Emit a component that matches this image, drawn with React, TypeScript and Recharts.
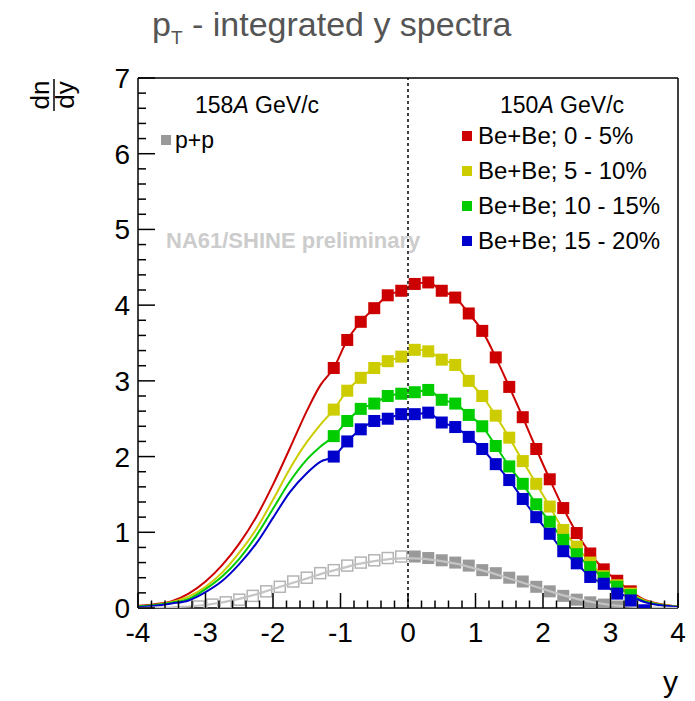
import React from "react";
import { ComposedChart, Line, Scatter, XAxis, YAxis, ReferenceLine } from "recharts";

// rapidity bins of the Be+Be measurements
const rapidity = [
  -1.1, -0.9, -0.7, -0.5, -0.3, -0.1, 0.1, 0.3, 0.5, 0.7, 0.9, 1.1, 1.3, 1.5,
  1.7, 1.9, 2.1, 2.3, 2.5, 2.7, 2.9, 3.1, 3.3, 3.5,
];
const beBe0to5 = [
  3.17, 3.54, 3.78, 3.96, 4.13, 4.19, 4.28, 4.3, 4.19, 4.1, 3.89, 3.66, 3.31,
  2.92, 2.52, 2.1, 1.7, 1.32, 0.99, 0.72, 0.51, 0.36, 0.22,
];
const beBe5to10 = [
  2.62, 2.87, 3.04, 3.17, 3.26, 3.32, 3.41, 3.39, 3.28, 3.21, 3.0, 2.8, 2.54,
  2.25, 1.94, 1.64, 1.34, 1.03, 0.81, 0.6, 0.42, 0.3, 0.19,
];
const beBe10to15 = [
  2.27, 2.47, 2.63, 2.7, 2.8, 2.83, 2.85, 2.88, 2.75, 2.7, 2.55, 2.4, 2.14,
  1.87, 1.64, 1.37, 1.14, 0.9, 0.71, 0.54, 0.4, 0.28, 0.17,
];
const beBe15to20 = [
  2.0, 2.2, 2.36, 2.47, 2.5, 2.56, 2.56, 2.58, 2.45, 2.39, 2.26, 2.1, 1.9,
  1.69, 1.44, 1.2, 0.98, 0.75, 0.59, 0.41, 0.32, 0.19, 0.1, -0.03,
];

// fitted curves outside the measured range
const fitLeftX = [-4, -3.75, -3.5, -3.25, -3, -2.75, -2.5, -2.25, -2, -1.75, -1.5, -1.3];
const fitTailX = [3.3, 3.5, 3.75, 4];
const fit0to5Left = [0.03, 0.05, 0.09, 0.19, 0.35, 0.57, 0.85, 1.2, 1.63, 2.11, 2.6, 2.94];
const fit5to10Left = [0.02, 0.04, 0.08, 0.15, 0.28, 0.47, 0.73, 1.04, 1.43, 1.84, 2.19, 2.42];
const fit10to15Left = [0.02, 0.04, 0.07, 0.12, 0.25, 0.42, 0.65, 0.95, 1.31, 1.67, 1.96, 2.13];
const fit15to20Left = [0.01, 0.03, 0.06, 0.1, 0.21, 0.36, 0.58, 0.85, 1.19, 1.53, 1.78, 1.93];
const fit0to5Tail = [0.22, 0.11, 0.05, 0.02];
const fit5to10Tail = [0.19, 0.1, 0.045, 0.018];
const fit10to15Tail = [0.17, 0.09, 0.04, 0.015];
const fit15to20Tail = [0.15, 0.08, 0.035, 0.012];

// p+p at 158A GeV/c (measured y > 0, mirrored to y < 0)
const ppRapidity = [0.1, 0.3, 0.5, 0.7, 0.9, 1.1, 1.3, 1.5, 1.7, 1.9, 2.1, 2.3, 2.5, 2.7, 2.9, 3.1];
const ppValues = [0.68, 0.66, 0.63, 0.6, 0.56, 0.5, 0.46, 0.4, 0.35, 0.28, 0.22, 0.16, 0.11, 0.075, 0.045, 0.02];
// symmetric p+p fit, positive half
const ppFitX = [0, 0.25, 0.5, 0.75, 1, 1.25, 1.5, 1.75, 2, 2.25, 2.5, 2.75, 3, 3.25, 3.5, 3.75, 4];
const ppFit = [0.66, 0.65, 0.62, 0.58, 0.52, 0.46, 0.39, 0.32, 0.25, 0.18, 0.12, 0.075, 0.04, 0.02, 0.01, 0.005, 0.0];

const xMajorTicks = [-4, -3, -2, -1, 0, 1, 2, 3, 4];
const yMajorTicks = [0, 1, 2, 3, 4, 5, 6, 7];
const xTicks = Array.from({ length: 41 }, (_, i) => Math.round((-4 + i * 0.2) * 10) / 10);
const yTicks = Array.from({ length: 36 }, (_, i) => Math.round(i * 0.2 * 10) / 10);

const series = [
  { name: "Be+Be; 0 - 5%", color: "#cc0000", values: beBe0to5, left: fit0to5Left, tail: fit0to5Tail },
  { name: "Be+Be; 5 - 10%", color: "#cccc00", values: beBe5to10, left: fit5to10Left, tail: fit5to10Tail },
  { name: "Be+Be; 10 - 15%", color: "#00cc00", values: beBe10to15, left: fit10to15Left, tail: fit10to15Tail },
  { name: "Be+Be; 15 - 20%", color: "#0000cc", values: beBe15to20, left: fit15to20Left, tail: fit15to20Tail },
];

const pts = (xs: number[], vs: number[]) => vs.map((v, i) => ({ x: xs[i], v }));

const FONT = "'Liberation Sans', Arial, Helvetica, sans-serif";

function XTick(props: any) {
  const { x, y, payload } = props;
  const v = payload.value;
  const major = xMajorTicks.some((t) => Math.abs(t - v) < 1e-6);
  return (
    <g>
      <line x1={x} x2={x} y1={y} y2={y - (major ? 15 : 7.5)} stroke="#000" strokeWidth={1.5} />
      {major && (
        <text x={x} y={y + 34} textAnchor="middle" fontSize={28} fill="#000" fontFamily={FONT}>
          {String(Math.round(v))}
        </text>
      )}
    </g>
  );
}

function YTick(props: any) {
  const { x, y, payload } = props;
  const v = payload.value;
  const major = yMajorTicks.some((t) => Math.abs(t - v) < 1e-6);
  return (
    <g>
      <line x1={x} x2={x + (major ? 17 : 8)} y1={y} y2={y} stroke="#000" strokeWidth={1.5} />
      {major && (
        <text x={x - 8} y={y + 10} textAnchor="end" fontSize={28} fill="#000" fontFamily={FONT}>
          {String(Math.round(v))}
        </text>
      )}
    </g>
  );
}

const square = (fill: string, size = 12) => (p: any) => (
  <rect x={p.cx - size / 2} y={p.cy - size / 2} width={size} height={size} fill={fill} />
);

const openSquare = (p: any) => (
  <rect x={p.cx - 5.5} y={p.cy - 5.5} width={11} height={11} fill="none" stroke="#b4b4b4" strokeWidth={1.5} />
);

const noMarker = () => <g />;

export default function App() {
  const ppFilled = pts(ppRapidity, ppValues);
  const ppMirror = ppFilled.map((p) => ({ x: -p.x, v: p.v }));
  const ppHalf = pts(ppFitX, ppFit);
  const ppCurve = [...ppHalf.slice(1).reverse().map((p) => ({ x: -p.x, v: p.v })), ...ppHalf];

  return (
    <div style={{ position: "absolute", left: 0, top: 0, width: 695, height: 701, background: "#fff", fontFamily: FONT }}>
      <ComposedChart width={695} height={701} margin={{ top: 78, right: 17, bottom: 53, left: 78 }}>
        <XAxis
          type="number"
          dataKey="x"
          domain={[-4, 4]}
          ticks={xTicks}
          interval={0}
          height={40}
          tickSize={0}
          tickMargin={0}
          tick={XTick}
          tickLine={false}
          axisLine={{ stroke: "#000", strokeWidth: 1.5 }}
          allowDataOverflow
        />
        <YAxis
          type="number"
          dataKey="v"
          domain={[0, 7]}
          ticks={yTicks}
          interval={0}
          width={60}
          tickSize={0}
          tickMargin={0}
          tick={YTick}
          tickLine={false}
          axisLine={{ stroke: "#000", strokeWidth: 1.5 }}
          allowDataOverflow
        />
        <ReferenceLine x={4} stroke="#000" strokeWidth={1.5} />
        <ReferenceLine y={7} stroke="#000" strokeWidth={1.5} />

        {series.map((s) => (
          <Line
            key={s.name + "-fit"}
            data={[
              ...pts(fitLeftX, s.left),
              ...pts(rapidity, s.values).filter((p) => p.x <= 3.1 + 1e-6),
              ...pts(fitTailX, s.tail),
            ]}
            dataKey="v"
            type="monotone"
            stroke={s.color}
            strokeWidth={2}
            dot={false}
            activeDot={false}
            isAnimationActive={false}
          />
        ))}

        <Scatter data={ppFilled} shape={square("#999999", 12)} isAnimationActive={false} />
        <Scatter data={ppMirror} shape={openSquare} isAnimationActive={false} />
        <Scatter
          data={ppCurve}
          shape={noMarker}
          line={{ stroke: "#c4c4c4", strokeWidth: 2.2 }}
          lineType="joint"
          isAnimationActive={false}
        />

        {series.map((s) => (
          <Scatter key={s.name} data={pts(rapidity, s.values)} shape={square(s.color, 12)} isAnimationActive={false} />
        ))}

        <ReferenceLine x={0} stroke="#000" strokeWidth={1.5} strokeDasharray="3 3" />
      </ComposedChart>

      <svg width={695} height={701} style={{ position: "absolute", left: 0, top: 0, pointerEvents: "none" }}>
        <text x={152} y={36} fontSize={34} fill="#555" fontFamily={FONT}>
          p
          <tspan fontSize={19} dy={8}>T</tspan>
          <tspan dy={-8}> - integrated y spectra</tspan>
        </text>

        <g transform="translate(54,95) rotate(-90)">
          <text x={0} y={-5} textAnchor="middle" fontSize={26} fill="#000" fontFamily={FONT}>dn</text>
          <line x1={-16} x2={16} y1={0} y2={0} stroke="#000" strokeWidth={1.5} />
          <text x={0} y={20} textAnchor="middle" fontSize={26} fill="#000" fontFamily={FONT}>dy</text>
        </g>

        <text x={678} y={692} textAnchor="end" fontSize={30} fill="#000" fontFamily={FONT}>y</text>

        <text x={195} y={113} fontSize={23} fill="#000" fontFamily={FONT}>
          158<tspan fontStyle="italic">A</tspan> GeV/c
        </text>
        <rect x={161} y={135} width={10} height={10} fill="#999999" />
        <text x={175} y={148} fontSize={23} fill="#000" fontFamily={FONT}>p+p</text>

        <text x={166} y={248} fontSize={22} fontWeight="bold" fill="#cccccc" fontFamily={FONT}>
          NA61/SHINE preliminary
        </text>

        <text x={500} y={113} fontSize={23} fill="#000" fontFamily={FONT}>
          150<tspan fontStyle="italic">A</tspan> GeV/c
        </text>
        {series.map((s, i) => (
          <g key={s.name}>
            <rect x={462} y={131 + i * 35} width={10} height={10} fill={s.color} />
            <text x={478} y={144 + i * 35} fontSize={24} fill="#000" fontFamily={FONT}>
              {s.name}
            </text>
          </g>
        ))}
      </svg>
    </div>
  );
}
